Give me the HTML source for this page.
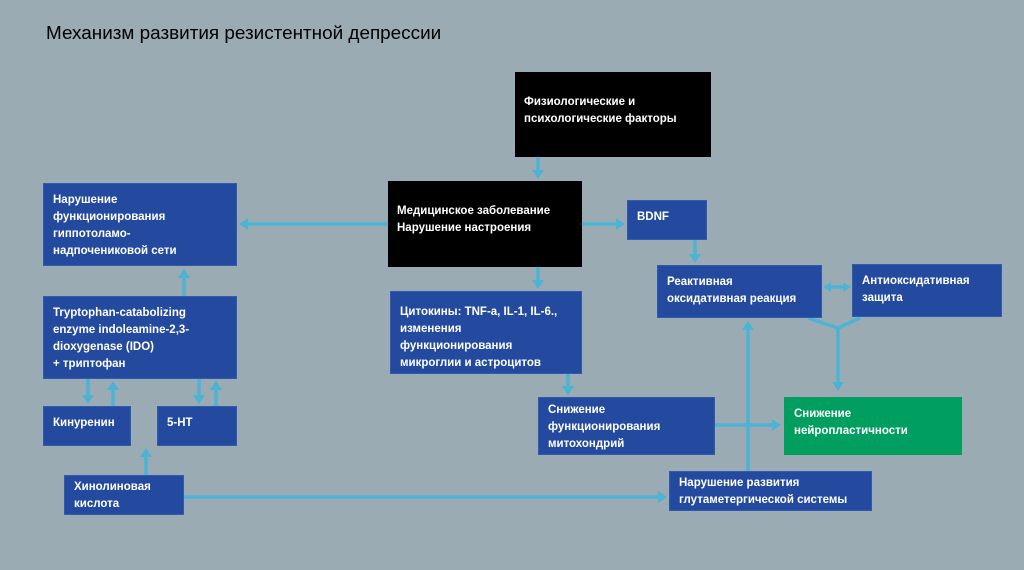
<!DOCTYPE html><html><head><meta charset="utf-8"><style>
body{margin:0;width:1024px;height:570px;background:#9aabb3;position:relative;overflow:hidden;font-family:"Liberation Sans","DejaVu Sans",sans-serif}
.b{position:absolute;background:#234a9e;color:#fff;font-weight:bold;font-size:11.5px;line-height:17px;box-sizing:border-box;padding:8px 9px;border:1px solid #2f5ab0}
.k{background:#000;border:none}
.t{position:absolute;left:46px;top:23px;font-size:18.9px;color:#000}
svg{position:absolute;left:0;top:0}
</style></head><body>
<div class="t">Механизм развития резистентной депрессии</div>
<svg width="1024" height="570"><defs><marker id="a" markerWidth="10" markerHeight="12" refX="1" refY="6" orient="auto" markerUnits="userSpaceOnUse"><path d="M0,0L9,6L0,12z" fill="#4db3d4"/></marker></defs>
<g stroke="#4db3d4" stroke-width="3.5" fill="none" marker-end="url(#a)">
<line x1="538" y1="157" x2="538" y2="171"/>
<line x1="388" y1="224" x2="247" y2="224"/>
<line x1="582" y1="224" x2="617" y2="224"/>
<line x1="695" y1="240" x2="695" y2="255"/>
<line x1="538" y1="267" x2="538" y2="281"/>
<line x1="568" y1="374" x2="568" y2="387"/>
<line x1="838" y1="328" x2="838" y2="383"/>
<line x1="715" y1="425" x2="773" y2="425"/>
<line x1="748" y1="471" x2="748" y2="329"/>
<line x1="184" y1="497" x2="659" y2="497"/>
<line x1="184" y1="296" x2="184" y2="277"/>
<line x1="88" y1="379" x2="88" y2="396"/>
<line x1="113" y1="406" x2="113" y2="389"/>
<line x1="199" y1="379" x2="199" y2="396"/>
<line x1="216" y1="406" x2="216" y2="389"/>
<line x1="146" y1="475" x2="146" y2="456"/>
</g>
<g stroke="#4db3d4" stroke-width="3.5" fill="none">
<polyline points="808,318 838,328 860,318"/>
<line x1="828" y1="287" x2="846" y2="287"/>
</g>
<path d="M823,287L831,282L831,292zM851,287L843,282L843,292z" fill="#4db3d4"/>
</svg>
<div class="b k" style="left:515px;top:72px;width:196px;height:85px;padding-top:22px">Физиологические и<br>психологические факторы</div>
<div class="b k" style="left:388px;top:181px;width:194px;height:86px;padding-top:22px">Медицинское заболевание<br>Нарушение настроения</div>
<div class="b" style="left:43px;top:183px;width:194px;height:83px">Нарушение<br>функционирования<br>гиппотоламо-<br>надпочениковой сети</div>
<div class="b" style="left:43px;top:296px;width:194px;height:83px">Tryptophan-catabolizing<br>enzyme indoleamine-2,3-<br>dioxygenase (IDO)<br>+ триптофан</div>
<div class="b" style="left:43px;top:406px;width:88px;height:40px">Кинуренин</div>
<div class="b" style="left:157px;top:406px;width:80px;height:40px">5-HT</div>
<div class="b" style="left:64px;top:475px;width:120px;height:40px;padding-top:3px">Хинолиновая<br>кислота</div>
<div class="b" style="left:390px;top:291px;width:192px;height:83px;padding-top:12px">Цитокины: TNF-a, IL-1, IL-6.,<br>изменения<br>функционирования<br>микроглии и астроцитов</div>
<div class="b" style="left:627px;top:200px;width:80px;height:40px">BDNF</div>
<div class="b" style="left:657px;top:265px;width:165px;height:53px">Реактивная<br>оксидативная реакция</div>
<div class="b" style="left:852px;top:264px;width:150px;height:53px">Антиоксидативная<br>защита</div>
<div class="b" style="left:538px;top:397px;width:177px;height:58px;padding-top:4px">Снижение<br>функционирования<br>митохондрий</div>
<div class="b" style="left:784px;top:397px;width:178px;height:58px;background:#009e5f;border-color:#009e5f">Снижение<br>нейропластичности</div>
<div class="b" style="left:669px;top:471px;width:203px;height:40px;padding-top:3px">Нарушение развития<br>глутаметергической системы</div>
</body></html>
